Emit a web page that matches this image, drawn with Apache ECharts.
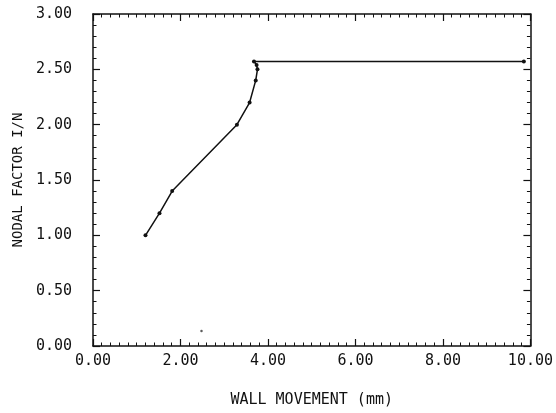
<!DOCTYPE html>
<html>
<head>
<meta charset="utf-8">
<script src="https://cdn.jsdelivr.net/npm/echarts@6/dist/echarts.min.js"></script>
<style>
  html, body { margin: 0; padding: 0; background: #fff; }
  #chart { width: 556px; height: 413px; }
</style>
</head>
<body>
<div id="chart"></div>
<script>
// Wall movement (mm) against nodal factor I/N
const wallMovement = [1.20, 1.52, 1.81, 3.29, 3.58, 3.72, 3.76, 3.74, 3.68, 9.85];
const nodalFactor  = [1.00, 1.20, 1.40, 2.00, 2.20, 2.40, 2.50, 2.54, 2.57, 2.57];
const strayDot = [[2.48, 0.135]];

const xTicks = { min: 0, max: 10, step: 2 };
const yTicks = { min: 0, max: 3, step: 0.5 };

const font = 'DejaVu Sans Mono';
const ink = '#111';

function axisCommon(showLabels, minorSplit) {
  return {
    type: 'value',
    axisLine: { show: true, onZero: false, lineStyle: { color: ink, width: 1.5 } },
    axisTick: { show: true, inside: true, length: 7, lineStyle: { color: ink, width: 1.2 } },
    minorTick: { show: true, splitNumber: minorSplit, length: 3.5, lineStyle: { color: ink, width: 1 } },
    splitLine: { show: false },
    axisLabel: {
      show: showLabels,
      color: ink,
      fontFamily: font,
      fontSize: 15,
      formatter: v => v.toFixed(2)
    }
  };
}

const chart = echarts.init(document.getElementById('chart'));
chart.setOption({
  backgroundColor: '#fff',
  animation: false,
  grid: { left: 93, right: 22, top: 14, bottom: 67 },
  xAxis: [
    Object.assign(axisCommon(true, 10), {
      position: 'bottom', min: xTicks.min, max: xTicks.max, interval: xTicks.step,
      name: 'WALL MOVEMENT (mm)', nameLocation: 'middle', nameGap: 47,
      nameTextStyle: { color: ink, fontFamily: font, fontSize: 15 }
    }),
    Object.assign(axisCommon(false, 10), {
      position: 'top', min: xTicks.min, max: xTicks.max, interval: xTicks.step
    })
  ],
  yAxis: [
    Object.assign(axisCommon(true, 5), {
      position: 'left', min: yTicks.min, max: yTicks.max, interval: yTicks.step,
      axisLabel: { color: ink, fontFamily: font, fontSize: 15, margin: 21, formatter: v => v.toFixed(2) },
      name: 'NODAL FACTOR I/N', nameLocation: 'middle', nameGap: 68, nameRotate: 90,
      nameTextStyle: { color: ink, fontFamily: font, fontSize: 14 }
    }),
    Object.assign(axisCommon(false, 5), {
      position: 'right', min: yTicks.min, max: yTicks.max, interval: yTicks.step
    })
  ],
  series: [
    {
      type: 'line',
      data: wallMovement.map((x, i) => [x, nodalFactor[i]]),
      symbol: 'circle',
      symbolSize: 4,
      itemStyle: { color: ink },
      lineStyle: { color: ink, width: 1.5 }
    },
    {
      type: 'scatter',
      data: strayDot,
      symbolSize: 2.5,
      itemStyle: { color: '#333' }
    }
  ]
});
</script>
</body>
</html>
